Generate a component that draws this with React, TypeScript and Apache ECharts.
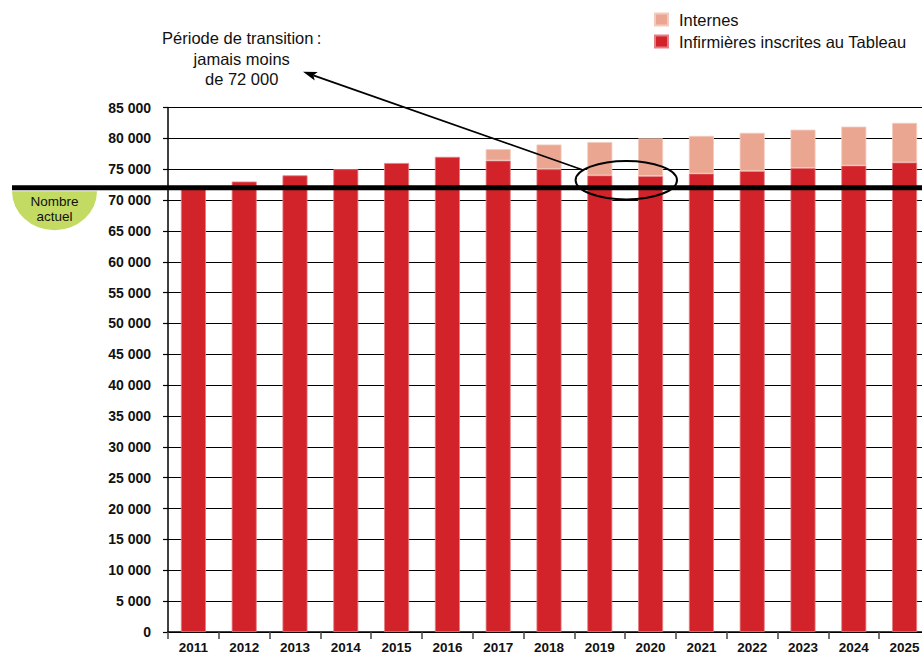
import React, { useEffect, useRef } from "react";
import * as echarts from "echarts";

const years = ["2011","2012","2013","2014","2015","2016","2017","2018","2019","2020","2021","2022","2023","2024","2025"];
const inscrites = [72000, 73000, 74000, 75000, 76000, 77000, 76400, 75000, 74000, 73900, 74300, 74700, 75200, 75600, 76100];
const internes = [null, null, null, null, null, null, 1850, 4000, 5400, 6100, 6100, 6200, 6200, 6300, 6400];
const seuil = 72000;
const yMax = 85000;
const yStep = 5000;
const annotationLines = ["Période de transition\u202F:", "jamais moins", "de 72 000"];
const badgeLines = ["Nombre", "actuel"];

const FONT = "'Liberation Sans', Arial, sans-serif";

echarts.graphic.registerShape(
  "halfEllipse",
  echarts.graphic.extendPath("M0,0 L85,0 A42.5,39 0 0,1 0,0 Z", {})
);

const fmt = (v: number) => String(v).replace(/\B(?=(\d{3})+(?!\d))/g, " ");

export default function App() {
  const ref = useRef<HTMLDivElement>(null);
  useEffect(() => {
    if (!ref.current) return;
    const chart = echarts.init(ref.current, null, { renderer: "svg" });
    chart.setOption({
      animation: false,
      backgroundColor: "#ffffff",
      textStyle: { fontFamily: FONT },
      legend: {
        orient: "vertical",
        left: 654,
        top: 11,
        padding: 0,
        itemWidth: 13,
        itemHeight: 12,
        itemGap: 5,
        icon: "rect",
        data: ["Internes", "Infirmières inscrites au Tableau"],
        textStyle: { fontFamily: FONT, fontSize: 16.5, color: "#111", padding: [0, 0, 0, 6] },
        selectedMode: false,
      },
      grid: { left: 168, right: 0, top: 107.5, bottom: 20.5, containLabel: false },
      xAxis: {
        type: "category",
        data: years,
        axisLine: { lineStyle: { color: "#000", width: 1.5 } },
        axisTick: { show: true, alignWithLabel: false, length: 7, lineStyle: { color: "#444", width: 1.5 } },
        axisLabel: { color: "#111", fontWeight: "bold", fontSize: 13.5, fontFamily: FONT, margin: 8 },
        splitLine: { show: false },
      },
      yAxis: {
        type: "value",
        min: 0,
        max: yMax,
        interval: yStep,
        axisLine: { show: true, lineStyle: { color: "#000", width: 1.5 } },
        axisTick: { show: true, length: 5, lineStyle: { color: "#000", width: 1.2 } },
        axisLabel: {
          color: "#111",
          fontWeight: "bold",
          fontSize: 14,
          fontFamily: FONT,
          margin: 17,
          formatter: (v: number) => fmt(v),
        },
        splitLine: { show: true, lineStyle: { color: "#000", width: 1.2 } },
      },
      series: [
        {
          name: "Infirmières inscrites au Tableau",
          type: "bar",
          stack: "total",
          barWidth: 25,
          data: inscrites,
          itemStyle: { color: "#D2232A", borderColor: "#E37F83", borderWidth: 0.8 },
          z: 3,
        },
        {
          name: "Internes",
          type: "bar",
          stack: "total",
          barWidth: 25,
          data: internes,
          itemStyle: { color: "#EAA690", borderColor: "#F2CBBE", borderWidth: 0.8 },
          z: 3,
        },
      ],
    });

    const yLine = chart.convertToPixel({ yAxisIndex: 0 }, seuil) as number;

    const tip = [303, 71.7];
    const tail = [583, 170];
    const dx = tail[0] - tip[0];
    const dy = tail[1] - tip[1];
    const len = Math.sqrt(dx * dx + dy * dy);
    const ux = dx / len, uy = dy / len;
    const px = -uy, py = ux;
    const back = [tip[0] + 14 * ux, tip[1] + 14 * uy];
    const notch = [tip[0] + 11 * ux, tip[1] + 11 * uy];

    chart.setOption({
      graphic: [
        {
          type: "line",
          shape: { x1: 12, y1: yLine, x2: 922, y2: yLine },
          style: { stroke: "#000", lineWidth: 5 },
          z: 100,
        },
        {
          type: "halfEllipse",
          x: 12,
          y: yLine + 3.5,
          style: { fill: "#C3DB63" },
          z: 100,
        },
        ...badgeLines.map((t, i) => ({
          type: "text",
          x: 54.5,
          y: yLine + 13.5 + i * 15.7,
          style: { text: t, fill: "#111", font: `13.5px ${FONT}`, textAlign: "center", textVerticalAlign: "middle" },
          z: 101,
        })),
        ...annotationLines.map((t, i) => ({
          type: "text",
          x: 241.7,
          y: 38.3 + i * 20.5,
          style: { text: t, fill: "#111", font: `16.5px ${FONT}`, textAlign: "center", textVerticalAlign: "middle" },
          z: 101,
        })),
        {
          type: "ellipse",
          shape: { cx: 626.3, cy: 180.2, rx: 50.7, ry: 19.2 },
          style: { fill: "none", stroke: "#000", lineWidth: 2 },
          z: 102,
        },
        {
          type: "line",
          shape: { x1: tail[0], y1: tail[1], x2: notch[0], y2: notch[1] },
          style: { stroke: "#000", lineWidth: 1.8 },
          z: 102,
        },
        {
          type: "polygon",
          shape: {
            points: [
              tip,
              [back[0] + 4.5 * px, back[1] + 4.5 * py],
              notch,
              [back[0] - 4.5 * px, back[1] - 4.5 * py],
            ],
          },
          style: { fill: "#000" },
          z: 102,
        },
      ],
    });

    return () => chart.dispose();
  }, []);
  return (
    <div style={{ position: "fixed", left: 0, top: 0, width: 922, height: 654, overflow: "hidden" }}>
      <div ref={ref} style={{ position: "absolute", left: 0, top: 0, width: 930, height: 654 }} />
    </div>
  );
}
